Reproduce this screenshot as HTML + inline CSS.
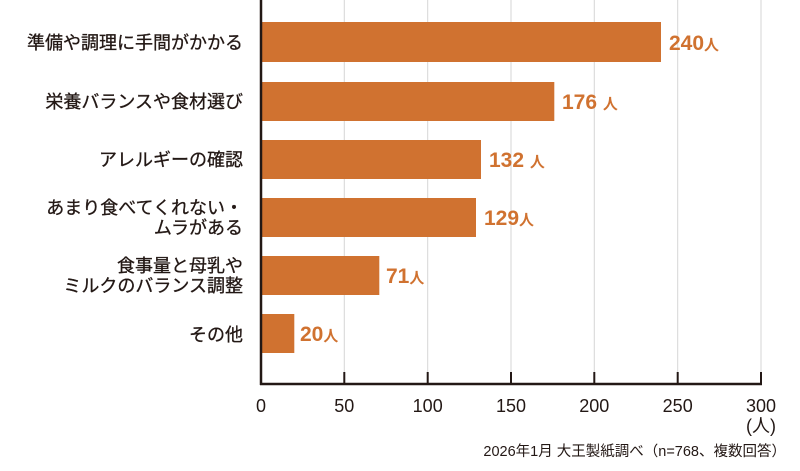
<!DOCTYPE html>
<html><head><meta charset="utf-8"><style>
html,body{margin:0;padding:0;background:#fff;}
svg{display:block;font-family:"Liberation Sans","Noto Sans CJK JP",sans-serif;}
</style></head><body>
<svg width="800" height="471" viewBox="0 0 800 471" xmlns="http://www.w3.org/2000/svg">
<g stroke="#d6d6d6" stroke-width="1">
<line x1="344.3" y1="0" x2="344.3" y2="384"/>
<line x1="427.7" y1="0" x2="427.7" y2="384"/>
<line x1="511" y1="0" x2="511" y2="384"/>
<line x1="594.3" y1="0" x2="594.3" y2="384"/>
<line x1="677.7" y1="0" x2="677.7" y2="384"/>
<line x1="761" y1="0" x2="761" y2="384"/>
</g>
<g fill="#d07230">
<rect x="261" y="22" width="400" height="40"/>
<rect x="261" y="82" width="293.3" height="39"/>
<rect x="261" y="140" width="220" height="39"/>
<rect x="261" y="198" width="215" height="39"/>
<rect x="261" y="256" width="118.3" height="39"/>
<rect x="261" y="314" width="33.3" height="39"/>
</g>
<g stroke="#231815" stroke-width="2.5">
<line x1="261" y1="0" x2="261" y2="385"/>
<line x1="260" y1="384" x2="762" y2="384"/>
</g>
<g stroke="#231815" stroke-width="2">
<line x1="344.3" y1="372" x2="344.3" y2="384"/>
<line x1="427.7" y1="372" x2="427.7" y2="384"/>
<line x1="511" y1="372" x2="511" y2="384"/>
<line x1="594.3" y1="372" x2="594.3" y2="384"/>
<line x1="677.7" y1="372" x2="677.7" y2="384"/>
<line x1="761" y1="372" x2="761" y2="384"/>
</g>
<g font-weight="bold" fill="#d07230" font-size="21">
<text x="669" y="50">240<tspan font-size="15">人</tspan></text>
<text x="562" y="109">176 <tspan font-size="15">人</tspan></text>
<text x="489" y="167">132 <tspan font-size="15">人</tspan></text>
<text x="484" y="225">129<tspan font-size="15">人</tspan></text>
<text x="386" y="283">71<tspan font-size="15">人</tspan></text>
<text x="300" y="341">20<tspan font-size="15">人</tspan></text>
</g>
<g fill="#231815" font-size="18" text-anchor="end" stroke="#231815" stroke-width="0.3">
<text x="243" y="49">準備や調理に手間がかかる</text>
<text x="243" y="108">栄養バランスや食材選び</text>
<text x="243" y="166">アレルギーの確認</text>
<text x="243" y="214">あまり食べてくれない・</text>
<text x="243" y="234">ムラがある</text>
<text x="243" y="272">食事量と母乳や</text>
<text x="243" y="292">ミルクのバランス調整</text>
<text x="243" y="341">その他</text>
</g>
<g fill="#231815" font-size="18" text-anchor="middle">
<text x="261" y="412">0</text>
<text x="344.3" y="412">50</text>
<text x="427.7" y="412">100</text>
<text x="511" y="412">150</text>
<text x="594.3" y="412">200</text>
<text x="677.7" y="412">250</text>
<text x="761" y="412">300</text>
<text x="761" y="432">(人)</text>
</g>
<text x="786" y="456" fill="#231815" font-size="14.5" text-anchor="end">2026年1月 大王製紙調べ（n=768、複数回答）</text>
</svg>
</body></html>
